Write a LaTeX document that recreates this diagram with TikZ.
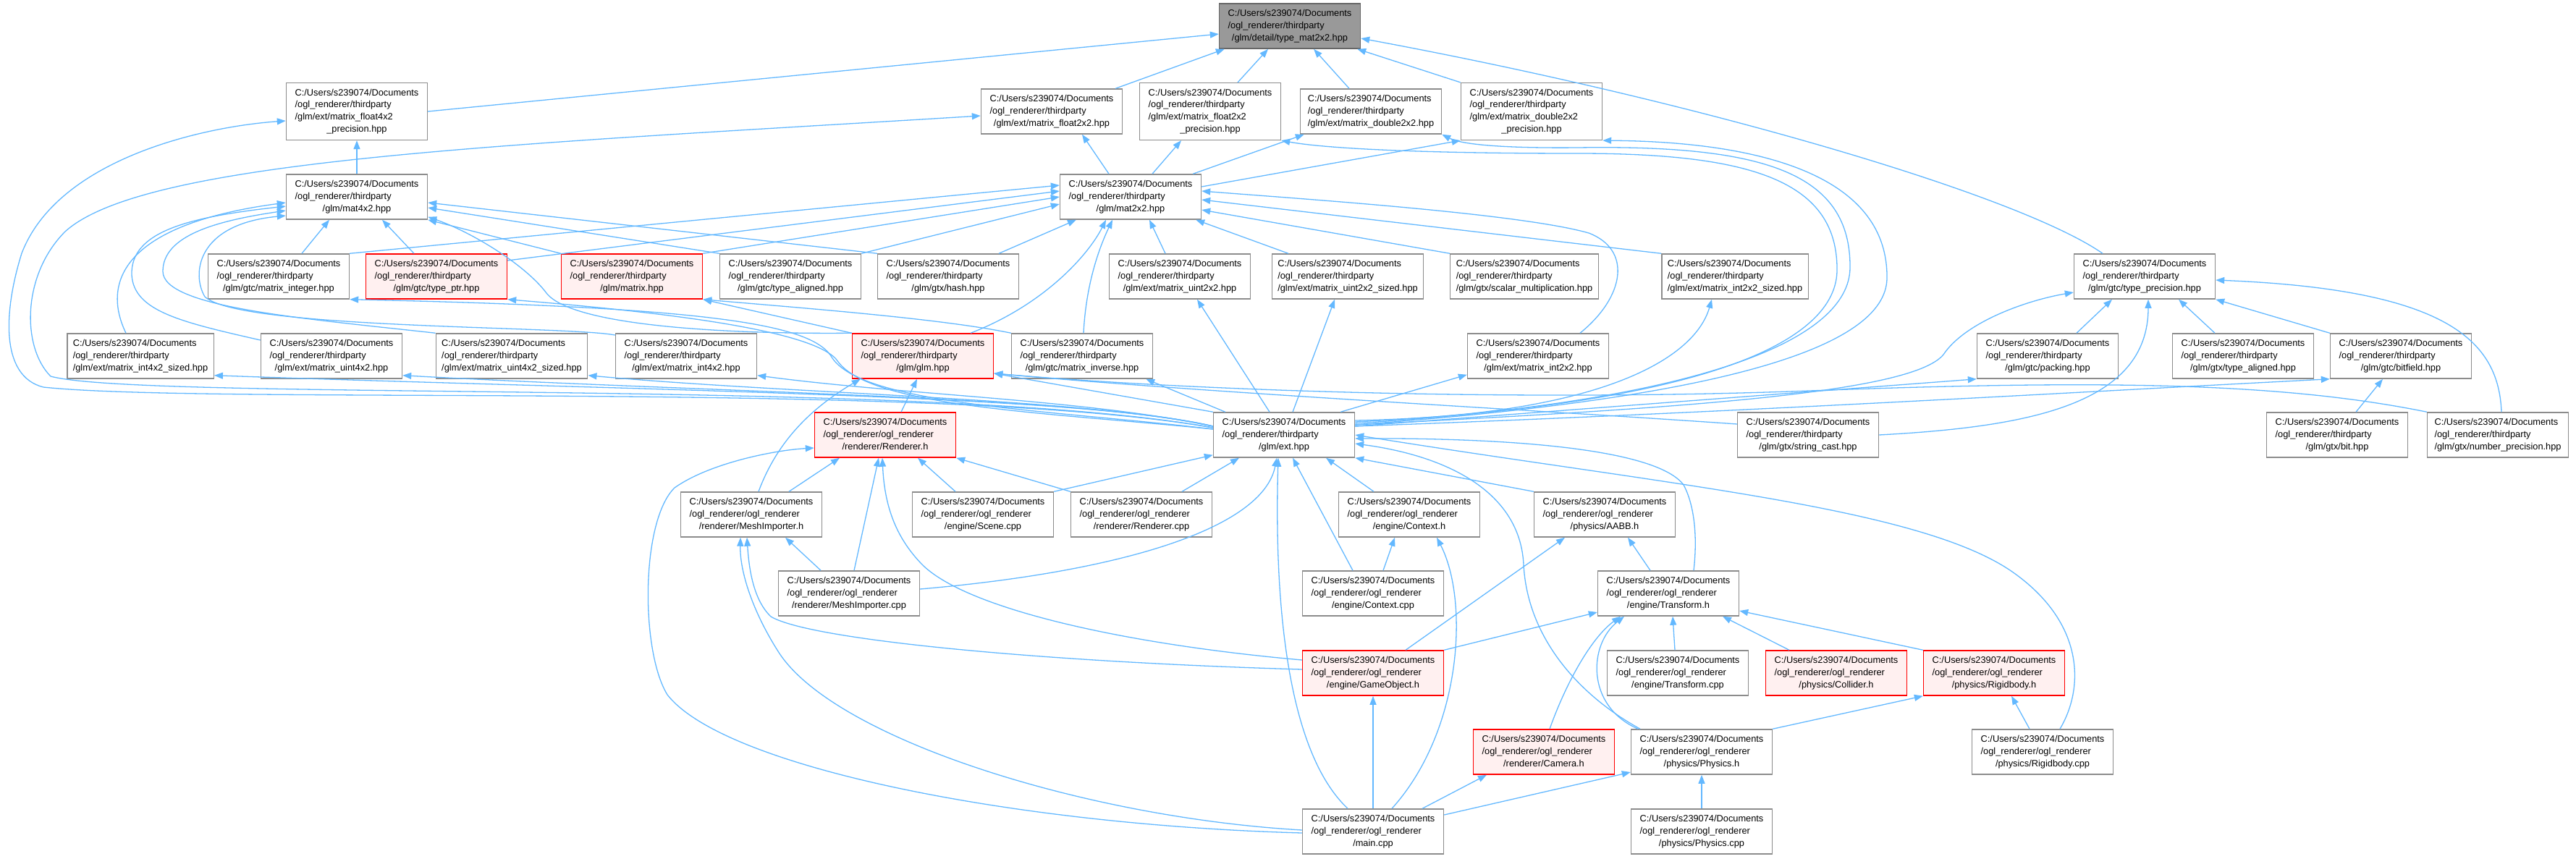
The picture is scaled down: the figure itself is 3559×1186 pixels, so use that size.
\documentclass[tikz,border=0pt]{standalone}
\usepackage{fontspec}
\setmainfont{Liberation Sans}
\usetikzlibrary{arrows.meta}
\definecolor{dxblue}{HTML}{63B8FF}
\definecolor{dxgrey}{HTML}{8C8C8C}
\definecolor{dxdark}{HTML}{666666}
\definecolor{dxroot}{HTML}{999999}
\definecolor{dxpink}{HTML}{FFF0F0}
\newcommand{\docs}{C:/Users/s239074/Documents}
\newcommand{\tpdir}{/ogl\_renderer/thirdparty}
\newcommand{\ordir}{/ogl\_renderer/ogl\_renderer}
\newcommand{\lblthree}[3]{\begin{tabular}{@{}l@{}}#1\\#2\\\multicolumn{1}{@{}c@{}}{#3}\end{tabular}}
\newcommand{\lblfour}[4]{\begin{tabular}{@{}l@{}}#1\\#2\\#3\\\multicolumn{1}{@{}c@{}}{#4}\end{tabular}}
\newcommand{\glmfile}[1]{\lblthree{\docs}{\tpdir}{#1}}
\newcommand{\appfile}[1]{\lblthree{\docs}{\ordir}{#1}}

\begin{document}
\begin{tikzpicture}[x=1pt, y=-1pt,
  filenode/.style={draw=dxgrey, fill=white, line width=1.4pt,
             inner xsep=8pt, inner ysep=6pt,
             minimum width=195pt, minimum height=62pt,
             font=\fontsize{12.8}{16.7}\selectfont},
  truncnode/.style={filenode, draw=red, fill=dxpink},
  rootnode/.style={filenode, draw=dxdark, fill=dxroot},
  edge/.style={line width=1.3pt, dxblue, -{Triangle[length=12pt, width=9pt]}},
]
\useasboundingbox (0,0) rectangle (3559,1186);

\node[rootnode]  (tmat)  at (1782, 36)  {\glmfile{/glm/detail/type\_mat2x2.hpp}};
\node[filenode]  (f4x2p) at (493, 154)  {\lblfour{\docs}{\tpdir}{/glm/ext/matrix\_float4x2}{\_precision.hpp}};
\node[filenode]  (f2x2)  at (1453, 154) {\glmfile{/glm/ext/matrix\_float2x2.hpp}};
\node[filenode]  (f2x2p) at (1672, 154) {\lblfour{\docs}{\tpdir}{/glm/ext/matrix\_float2x2}{\_precision.hpp}};
\node[filenode]  (d2x2)  at (1894, 154) {\glmfile{/glm/ext/matrix\_double2x2.hpp}};
\node[filenode]  (d2x2p) at (2116, 154) {\lblfour{\docs}{\tpdir}{/glm/ext/matrix\_double2x2}{\_precision.hpp}};
\node[filenode]  (m4x2)  at (493, 272)  {\glmfile{/glm/mat4x2.hpp}};
\node[filenode]  (m2x2)  at (1562, 272) {\glmfile{/glm/mat2x2.hpp}};

\node[filenode]  (mint)  at (385, 382)  {\glmfile{/glm/gtc/matrix\_integer.hpp}};
\node[truncnode] (tptr)  at (603, 382)  {\glmfile{/glm/gtc/type\_ptr.hpp}};
\node[truncnode] (mtx)   at (873, 382)  {\glmfile{/glm/matrix.hpp}};
\node[filenode]  (talg)  at (1092, 382) {\glmfile{/glm/gtc/type\_aligned.hpp}};
\node[filenode]  (hash)  at (1310, 382) {\glmfile{/glm/gtx/hash.hpp}};
\node[filenode]  (u2x2)  at (1630, 382) {\glmfile{/glm/ext/matrix\_uint2x2.hpp}};
\node[filenode]  (u2x2s) at (1862, 382) {\glmfile{/glm/ext/matrix\_uint2x2\_sized.hpp}};
\node[filenode]  (smul)  at (2106, 382) {\glmfile{/glm/gtx/scalar\_multiplication.hpp}};
\node[filenode]  (i2x2s) at (2397, 382) {\glmfile{/glm/ext/matrix\_int2x2\_sized.hpp}};
\node[filenode]  (tprec) at (2963, 382) {\glmfile{/glm/gtc/type\_precision.hpp}};

\node[filenode]  (i4x2s) at (194, 492)  {\glmfile{/glm/ext/matrix\_int4x2\_sized.hpp}};
\node[filenode]  (u4x2)  at (458, 492)  {\glmfile{/glm/ext/matrix\_uint4x2.hpp}};
\node[filenode]  (u4x2s) at (707, 492)  {\glmfile{/glm/ext/matrix\_uint4x2\_sized.hpp}};
\node[filenode]  (i4x2)  at (948, 492)  {\glmfile{/glm/ext/matrix\_int4x2.hpp}};
\node[truncnode] (glm)   at (1275, 492) {\glmfile{/glm/glm.hpp}};
\node[filenode]  (minv)  at (1495, 492) {\glmfile{/glm/gtc/matrix\_inverse.hpp}};
\node[filenode]  (i2x2)  at (2125, 492) {\glmfile{/glm/ext/matrix\_int2x2.hpp}};
\node[filenode]  (pack)  at (2829, 492) {\glmfile{/glm/gtc/packing.hpp}};
\node[filenode]  (xalg)  at (3099, 492) {\glmfile{/glm/gtx/type\_aligned.hpp}};
\node[filenode]  (bitf)  at (3317, 492) {\glmfile{/glm/gtc/bitfield.hpp}};

\node[truncnode] (rend)  at (1223, 601) {\appfile{/renderer/Renderer.h}};
\node[filenode]  (ext)   at (1774, 601) {\glmfile{/glm/ext.hpp}};
\node[filenode]  (scast) at (2498, 601) {\glmfile{/glm/gtx/string\_cast.hpp}};
\node[filenode]  (bit)   at (3229, 601) {\glmfile{/glm/gtx/bit.hpp}};
\node[filenode]  (nprec) at (3451, 601) {\glmfile{/glm/gtx/number\_precision.hpp}};

\node[filenode]  (meshh) at (1038, 711) {\appfile{/renderer/MeshImporter.h}};
\node[filenode]  (scene) at (1358, 711) {\appfile{/engine/Scene.cpp}};
\node[filenode]  (rendc) at (1577, 711) {\appfile{/renderer/Renderer.cpp}};
\node[filenode]  (ctxh)  at (1947, 711) {\appfile{/engine/Context.h}};
\node[filenode]  (aabb)  at (2217, 711) {\appfile{/physics/AABB.h}};
\node[filenode]  (meshc) at (1173, 820) {\appfile{/renderer/MeshImporter.cpp}};
\node[filenode]  (ctxc)  at (1897, 820) {\appfile{/engine/Context.cpp}};
\node[filenode]  (trh)   at (2305, 820) {\appfile{/engine/Transform.h}};
\node[truncnode] (gobj)  at (1897, 930) {\appfile{/engine/GameObject.h}};
\node[filenode]  (trc)   at (2318, 930) {\appfile{/engine/Transform.cpp}};
\node[truncnode] (coll)  at (2537, 930) {\appfile{/physics/Collider.h}};
\node[truncnode] (righ)  at (2755, 930) {\appfile{/physics/Rigidbody.h}};
\node[truncnode] (cam)   at (2133, 1039) {\appfile{/renderer/Camera.h}};
\node[filenode]  (phys)  at (2351, 1039) {\appfile{/physics/Physics.h}};
\node[filenode]  (rigc)  at (2822, 1039) {\appfile{/physics/Rigidbody.cpp}};
\node[filenode]  (main)  at (1897, 1149) {\appfile{/main.cpp}};
\node[filenode]  (physc) at (2351, 1149) {\appfile{/physics/Physics.cpp}};

% includers of type_mat2x2.hpp
\draw[edge] (f4x2p.east) -- ([yshift=-11pt]tmat.west);
\draw[edge] ([xshift=-10pt]f2x2.north east) -- ([xshift=8pt]tmat.south west);
\draw[edge] ([xshift=38pt]f2x2p.north) -- ([xshift=-30pt]tmat.south);
\draw[edge] ([xshift=-30pt]d2x2.north) -- ([xshift=33pt]tmat.south);
\draw[edge] (d2x2p.north west) -- ([xshift=-5pt]tmat.south east);
\draw[edge] ([xshift=-58pt]tprec.north) .. controls (2790,270) and (2350,140) .. ([yshift=-17pt]tmat.east);

\draw[edge] ([xshift=-30pt]m2x2.north) -- ([xshift=42pt]f2x2.south);
\draw[edge] ([xshift=30pt]m2x2.north) -- ([xshift=-40pt]f2x2p.south);
\draw[edge] ([xshift=-12pt]m2x2.north east) -- ([xshift=6pt]d2x2.south west);
\draw[edge] ([yshift=14pt]m2x2.east) -- (d2x2p.south west);

% mat4x2.hpp
\draw[edge] ([xshift=32pt]mint.north) -- ([xshift=-38pt]m4x2.south);
\draw[edge] ([xshift=-31pt]tptr.north) -- ([xshift=35pt]m4x2.south);
\draw[edge] (mtx.north west) -- (m4x2.south east);
\draw[edge] (talg.north west) -- ([yshift=-15pt]m4x2.east);
\draw[edge] (hash.north west) -- ([yshift=-8pt]m4x2.east);
\draw[edge] (glm.north west) .. controls (1000,462) and (790,450) .. (755,405) .. controls (725,365) and (650,320) .. ([yshift=4pt]m4x2.south east);
\draw[edge] ([xshift=-20pt]i4x2s.north) .. controls (140,390) and (170,310) .. ([yshift=-8pt]m4x2.west);
\draw[edge] ([yshift=22pt]u4x2.west) .. controls (250,445) and (185,430) .. (182,380) .. controls (180,320) and (260,300) .. ([yshift=-13pt]m4x2.west);
\draw[edge] (u4x2s.north west) .. controls (420,440) and (225,425) .. (225,375) .. controls (225,325) and (300,305) .. ([yshift=-19pt]m4x2.west);
\draw[edge] ([yshift=29pt]i4x2.west) .. controls (780,450) and (330,455) .. (283,410) .. controls (265,380) and (270,310) .. ([yshift=-26pt]m4x2.west);

% mat2x2.hpp
\draw[edge] (mint.north east) -- ([yshift=16pt]m2x2.west);
\draw[edge] ([yshift=22pt]tptr.east) -- ([yshift=8pt]m2x2.west);
\draw[edge] (mtx.north east) -- (m2x2.west);
\draw[edge] (talg.north east) -- ([yshift=-10pt]m2x2.west);
\draw[edge] ([xshift=70pt]hash.north) -- ([xshift=-75pt]m2x2.south);
\draw[edge] ([xshift=66pt]glm.north) .. controls (1445,420) and (1505,350) .. ([xshift=-34pt]m2x2.south);
\draw[edge] ([xshift=2pt]minv.north) .. controls (1500,400) and (1515,350) .. ([xshift=-25pt]m2x2.south);
\draw[edge] ([xshift=-20pt]u2x2.north) -- ([xshift=26pt]m2x2.south);
\draw[edge] ([xshift=-82pt]u2x2s.north) -- ([xshift=-8pt]m2x2.south east);
\draw[edge] (smul.north west) -- ([yshift=-18pt]m2x2.east);
\draw[edge] (i2x2s.north west) -- ([yshift=-4pt]m2x2.east);
\draw[edge] ([xshift=58pt]i2x2.north) .. controls (2245,410) and (2255,345) .. (2195,322) .. controls (2100,295) and (1800,275) .. ([yshift=8pt]m2x2.east);

% glm.hpp and matrix.hpp
\draw[edge] (glm.north west) -- (mtx.south east);
\draw[edge] (minv.north west) .. controls (1300,440) and (1100,425) .. (mtx.south east);

% ext.hpp includes
\draw[edge] ([yshift=10pt]ext.west) .. controls (1300,525) and (300,560) .. (60,535) .. controls (0,520) and (5,430) .. (30,350) .. controls (80,220) and (280,175) .. ([yshift=-13pt]f4x2p.west);
\draw[edge] ([yshift=10pt]ext.west) .. controls (1300,522) and (200,555) .. (70,520) .. controls (30,480) and (30,380) .. (90,320) .. controls (200,220) and (700,200) .. ([yshift=-6pt]f2x2.west);
\draw[edge] ([yshift=12pt]ext.west) .. controls (1500,546) and (900,540) .. ([yshift=5pt]i4x2s.south east);
\draw[edge] ([yshift=12pt]ext.west) .. controls (1500,548) and (1000,543) .. ([yshift=5pt]u4x2.south east);
\draw[edge] ([yshift=12pt]ext.west) .. controls (1500,550) and (1100,545) .. ([yshift=5pt]u4x2s.south east);
\draw[edge] ([yshift=12pt]ext.west) .. controls (1500,552) and (1250,546) .. ([yshift=5pt]i4x2.south east);
\draw[edge] ([yshift=8pt]ext.west) .. controls (1450,566) and (1195,560) .. (1150,495) .. controls (1125,450) and (1000,425) .. (mint.south east);
\draw[edge] ([yshift=8pt]ext.west) .. controls (1450,570) and (1205,563) .. (1158,500) .. controls (1130,455) and (900,430) .. (tptr.south east);
\draw[edge] ([xshift=-20pt]ext.north) -- ([xshift=24pt]u2x2.south);
\draw[edge] ([xshift=12pt]ext.north) -- ([xshift=-18pt]u2x2s.south);
\draw[edge] ([xshift=17pt]ext.north west) -- ([xshift=-10pt]minv.south east);
\draw[edge] ([xshift=-20pt]ext.north east) -- ([yshift=6pt]i2x2.south west);
\draw[edge] ([yshift=20pt]ext.east) .. controls (2200,575) and (2340,500) .. ([xshift=-32pt]i2x2s.south);
\draw[edge] (ext.north west) -- ([yshift=-24pt]glm.east);
\draw[edge] ([yshift=18pt]ext.east) .. controls (2330,560) and (2535,480) .. (2538,375) .. controls (2540,250) and (2420,212) .. (2180,212) .. controls (1960,212) and (1830,205) .. (f2x2p.south east);
\draw[edge] ([yshift=16pt]ext.east) .. controls (2350,555) and (2555,470) .. (2556,370) .. controls (2557,240) and (2440,200) .. (2180,204) .. controls (2080,205) and (2020,200) .. (d2x2.south east);
\draw[edge] ([yshift=14pt]ext.east) .. controls (2380,550) and (2605,480) .. (2607,385) .. controls (2609,250) and (2450,196) .. (d2x2p.south east);
\draw[edge] ([yshift=14pt]ext.east) .. controls (2300,565) and (2640,545) .. (2685,490) .. controls (2715,445) and (2800,415) .. ([yshift=-22pt]tprec.west);
\draw[edge] ([yshift=12pt]ext.east) -- (pack.south west);
\draw[edge] ([yshift=12pt]ext.east) .. controls (2400,570) and (2900,540) .. (bitf.south west);

% gtc / gtx
\draw[edge] ([yshift=15pt]scast.west) .. controls (2100,565) and (1700,545) .. ([yshift=-24pt]glm.east);
\draw[edge] (nprec.north west) .. controls (3150,528) and (2900,525) .. (2500,540) .. controls (2100,555) and (1650,540) .. ([yshift=-24pt]glm.east);
\draw[edge] ([xshift=40pt]pack.north) -- ([xshift=-45pt]tprec.south);
\draw[edge] ([xshift=-39pt]xalg.north) -- ([xshift=47pt]tprec.south);
\draw[edge] (bitf.north west) -- (tprec.south east);
\draw[edge] ([xshift=26pt]bit.north) -- ([xshift=-25pt]bitf.south);
\draw[edge] ([xshift=5pt]nprec.north) .. controls (3452,470) and (3380,400) .. ([yshift=-5pt]tprec.east);
\draw[edge] (scast.east) .. controls (2800,590) and (2968,560) .. ([xshift=5pt]tprec.south);

% renderer side
\draw[edge] ([xshift=22pt]rend.north) -- ([xshift=-8pt]glm.south);
\draw[edge] ([xshift=10pt]meshh.north) .. controls (1070,620) and (1110,570) .. ([xshift=12pt]glm.south west);
\draw[edge] ([xshift=52pt]meshh.north) -- ([xshift=-63pt]rend.south);
\draw[edge] ([xshift=-38pt]scene.north) -- ([xshift=45pt]rend.south);
\draw[edge] (rendc.north west) -- (rend.south east);
\draw[edge] (scene.north east) -- ([yshift=4pt]ext.south west);
\draw[edge] ([xshift=56pt]rendc.north) -- ([xshift=-62pt]ext.south);
\draw[edge] ([xshift=-39pt]meshc.north) -- ([xshift=47pt]meshh.south);
\draw[edge] ([xshift=7pt]meshc.north) -- ([xshift=-9pt]rend.south);
\draw[edge] ([yshift=6pt]meshc.east) .. controls (1550,790) and (1745,730) .. ([xshift=-10pt]ext.south);
\draw[edge] ([xshift=-49pt]ctxh.north) -- ([xshift=58pt]ext.south);
\draw[edge] ([xshift=14pt]ctxc.north) -- ([xshift=-20pt]ctxh.south);
\draw[edge] ([xshift=-28pt]ctxc.north) -- ([xshift=12pt]ext.south);

% main.cpp and GameObject.h
\draw[edge] ([xshift=-35pt]main.north) .. controls (1780,1040) and (1760,840) .. ([xshift=-8pt]ext.south);
\draw[edge] ([xshift=26pt]main.north) .. controls (2020,1010) and (2030,830) .. ([xshift=38pt]ctxh.south);
\draw[edge] ([yshift=2pt]main.west) .. controls (1500,1130) and (1150,1020) .. (1075,900) .. controls (1040,845) and (1022,790) .. ([xshift=-15pt]meshh.south);
\draw[edge] ([yshift=-2pt]main.west) .. controls (1400,1140) and (1000,1060) .. (922,960) .. controls (885,900) and (885,720) .. (932,674) .. controls (980,640) and (1070,622) .. ([yshift=-18pt]rend.west);
\draw[edge] ([xshift=68pt]main.north) -- ([xshift=-79pt]cam.south);
\draw[edge] ([yshift=23pt]main.east) -- ([yshift=-28pt]phys.west);
\draw[edge] ([yshift=18pt]gobj.west) .. controls (1550,890) and (1330,840) .. (1272,778) .. controls (1238,742) and (1222,700) .. ([xshift=-4pt]rend.south);
\draw[edge] ([yshift=5pt]gobj.west) .. controls (1450,915) and (1120,885) .. (1065,852) .. controls (1042,830) and (1035,790) .. ([xshift=-6pt]meshh.south);
\draw[edge] ([xshift=45pt]gobj.north) -- ([xshift=-55pt]aabb.south);
\draw[edge] (gobj.north east) -- ([yshift=-26pt]trh.west);

% physics side
\draw[edge] ([xshift=-25pt]trh.north) -- ([xshift=32pt]aabb.south);
\draw[edge] ([xshift=35pt]trh.north) .. controls (2345,745) and (2342,700) .. (2326,670) .. controls (2290,622) and (2100,605) .. ([yshift=-5pt]ext.east);
\draw[edge] (aabb.north west) -- (ext.south east);
\draw[edge] ([xshift=-85pt]phys.north) .. controls (2180,960) and (2110,880) .. (2105,780) .. controls (2100,680) and (2000,630) .. ([yshift=-12pt]ext.east);
\draw[edge] ([xshift=-88pt]phys.north) .. controls (2190,975) and (2195,890) .. ([xshift=-61pt]trh.south);
\draw[edge] ([xshift=8pt]cam.north) .. controls (2165,940) and (2200,880) .. ([xshift=-66pt]trh.south);
\draw[edge] ([xshift=-4pt]trc.north) -- ([xshift=6pt]trh.south);
\draw[edge] ([xshift=-65pt]coll.north) -- ([xshift=75pt]trh.south);
\draw[edge] (righ.north west) -- ([yshift=-24pt]trh.east);
\draw[edge] (phys.north east) -- (righ.south west);
\draw[edge] ([xshift=-18pt]rigc.north) -- ([xshift=24pt]righ.south);
\draw[edge] ([xshift=24pt]rigc.north) .. controls (2880,950) and (2880,860) .. (2780,790) .. controls (2650,700) and (2300,670) .. (ext.east);

\foreach \src/\dst in {m4x2/f4x2p, main/gobj, physc/phys}
  \draw[edge] (\src) -- (\dst);
\end{tikzpicture}
\end{document}
